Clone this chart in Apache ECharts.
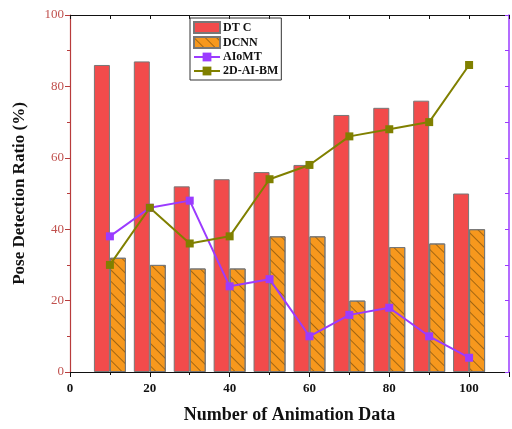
<!DOCTYPE html>
<html><head><meta charset="utf-8">
<script src="https://cdn.jsdelivr.net/npm/echarts@6/dist/echarts.min.js"></script>
<style>html,body{margin:0;padding:0;background:#fff}#c{width:512px;height:429px}</style>
</head><body><div id="c"></div>
<script>
var xValues = [10, 20, 30, 40, 50, 60, 70, 80, 90, 100];
var dtc = [86, 87, 52, 54, 56, 58, 72, 74, 76, 50];
var dcnn = [32, 30, 29, 29, 38, 38, 20, 35, 36, 40];
var aiomt = [38, 46, 48, 24, 26, 10, 16, 18, 10, 4];
var ai2dbm = [30, 46, 36, 38, 54, 58, 66, 68, 70, 86];
var seriesNames = ['DTC', 'DCNN', 'AIoMT', '2D-AI-BM'];
var legendLabels = ['DT C', 'DCNN', 'AIoMT', '2D-AI-BM'];

function pairs(v){ return xValues.map(function(x,i){ return [x, v[i]]; }); }
var serif = '"Liberation Serif","Times New Roman",serif';
var hatch = {symbol: 'rect', symbolSize: 1, dashArrayX: [1, 0], dashArrayY: [1, 7],
  rotation: Math.PI / 4, color: 'rgba(60,40,0,0.45)'};
var chart = echarts.init(document.getElementById('c'));
chart.setOption({
  animation: false,
  backgroundColor: '#fff',
  grid: {left: 70, right: 2, top: 15, bottom: 57},
  legend: {
    left: 190, top: 18, orient: 'vertical',
    borderColor: '#333', borderWidth: 1, padding: [3, 3, 3, 3],
    itemWidth: 26, itemHeight: 11, itemGap: 2,
    textStyle: {fontFamily: serif, fontWeight: 'bold', fontSize: 12, color: '#111', padding: [0, 0, 0, -2]},
    formatter: function(n){ return legendLabels[seriesNames.indexOf(n)]; },
    data: [{name: 'DTC', icon: 'rect'}, {name: 'DCNN', icon: 'rect'}, {name: 'AIoMT'}, {name: '2D-AI-BM'}]
  },
  xAxis: [{
    type: 'value', min: 0, max: 110, interval: 20,
    name: 'Number of Animation Data', nameLocation: 'middle', nameGap: 34,
    nameTextStyle: {fontFamily: serif, fontWeight: 'bold', fontSize: 18, color: '#111'},
    axisLine: {show: true, onZero: false, lineStyle: {color: '#111', width: 1.2}},
    axisTick: {show: true, inside: false, length: 5, lineStyle: {color: '#111'}},
    minorTick: {show: true, splitNumber: 2, length: 3, lineStyle: {color: '#111'}},
    axisLabel: {fontFamily: serif, fontWeight: 'bold', fontSize: 13, color: '#111', margin: 10,
      formatter: function(v){ return v > 100 ? '' : v; }},
    splitLine: {show: false}
  }, {
    type: 'value', position: 'top', min: 0, max: 110, interval: 10,
    axisLine: {show: true, onZero: false, lineStyle: {color: '#111', width: 1.2}},
    axisTick: {show: true, inside: true, length: 4, lineStyle: {color: '#111'}},
    axisLabel: {show: false}, splitLine: {show: false}
  }],
  yAxis: [{
    type: 'value', min: 0, max: 100, interval: 20,
    name: 'Pose Detection Ratio (%)', nameLocation: 'middle', nameGap: 42, nameRotate: 90,
    nameTextStyle: {fontFamily: serif, fontWeight: 'bold', fontSize: 17, color: '#111'},
    axisLine: {show: true, onZero: false, lineStyle: {color: '#b83c3c', width: 1.2}},
    axisTick: {show: true, length: 5, lineStyle: {color: '#b83c3c'}},
    minorTick: {show: true, splitNumber: 2, length: 3, lineStyle: {color: '#b83c3c'}},
    axisLabel: {fontFamily: serif, fontSize: 13, color: '#c0504d', margin: 6},
    splitLine: {show: false}
  }, {
    type: 'value', position: 'right', min: 0, max: 100, interval: 10,
    axisLine: {show: true, onZero: false, lineStyle: {color: '#9b3bff', width: 1.5}},
    axisTick: {show: true, inside: true, length: 4, lineStyle: {color: '#9b3bff'}},
    axisLabel: {show: false}, splitLine: {show: false}
  }],
  series: [{
    name: 'DTC', type: 'bar', data: pairs(dtc), barWidth: 16, barGap: '0%',
    itemStyle: {color: '#f24b4b', borderColor: '#777', borderWidth: 1}
  }, {
    name: 'DCNN', type: 'bar', data: pairs(dcnn), barWidth: 16, barGap: '0%',
    itemStyle: {color: '#f7981d', borderColor: '#777', borderWidth: 1, decal: hatch}
  }, {
    name: 'AIoMT', type: 'line', data: pairs(aiomt), symbol: 'rect', symbolSize: 8,
    lineStyle: {color: '#9b3bff', width: 2}, itemStyle: {color: '#9b3bff'}, z: 5
  }, {
    name: '2D-AI-BM', type: 'line', data: pairs(ai2dbm), symbol: 'rect', symbolSize: 8,
    lineStyle: {color: '#808000', width: 2}, itemStyle: {color: '#808000'}, z: 5
  }]
});
</script></body></html>
